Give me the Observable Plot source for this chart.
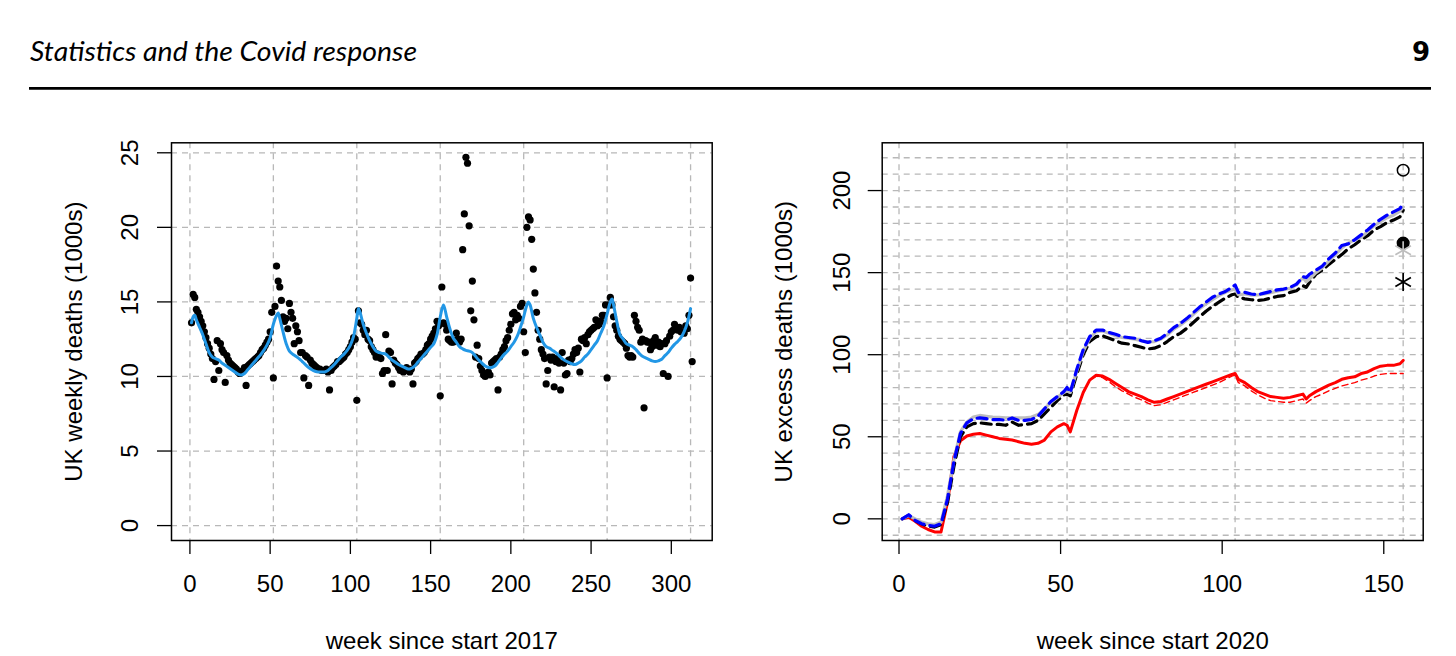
<!DOCTYPE html>
<html><head><meta charset="utf-8">
<script src="https://cdn.jsdelivr.net/npm/d3@7"></script>
<script src="https://cdn.jsdelivr.net/npm/@observablehq/plot@0.6"></script>
<style>
body{margin:0;background:#fff;width:1456px;height:656px;overflow:hidden;position:relative;font-family:"Liberation Sans",Arial,sans-serif;}
#hdr{position:absolute;left:0;top:0;}
#left{position:absolute;left:0;top:100px;}
#right{position:absolute;left:740px;top:100px;}
</style></head><body>
<svg id="hdr" width="1456" height="100">
  <text x="30" y="61" font-family="Lato, 'DejaVu Sans', sans-serif" font-style="italic" font-size="27" textLength="387" lengthAdjust="spacingAndGlyphs">Statistics and the Covid response</text>
  <text x="1430" y="61" text-anchor="end" font-family="'DejaVu Sans', sans-serif" font-weight="bold" font-size="26">9</text>
  <line x1="29" x2="1431" y1="88.3" y2="88.3" stroke="black" stroke-width="2.8"/>
</svg>
<div id="left"></div><div id="right"></div>
<script>
// ---------- Left panel data: UK weekly deaths (1000s), weeks 1..313 since start 2017 ----------
const weeklyDeaths = [
 13.6,15.5,15.3,14.5,14.3,14.0,13.7,13.4,13.0,12.6,
 12.2,11.9,11.5,11.2,9.8,11.0,12.4,10.4,12.2,11.8,
 11.6,9.6,11.4,11.1,10.9,10.8,10.7,10.6,10.5,10.3,
 10.2,10.3,10.4,10.6,9.4,10.7,10.8,10.9,11.0,11.1,
 11.2,11.3,11.4,11.6,11.8,11.9,12.1,12.3,12.5,13.0,
 14.3,9.9,14.7,17.4,16.4,16.0,15.1,14.0,13.7,13.9,
 13.2,14.9,14.3,13.9,12.2,13.4,13.0,12.4,11.6,11.6,
 9.9,11.4,11.3,9.4,11.1,10.9,10.8,10.7,10.6,10.5,
 10.5,10.4,10.4,10.4,10.5,10.3,9.1,10.4,10.6,10.7,
 10.8,11.0,11.0,11.1,11.2,11.3,11.5,11.6,11.8,12.0,
 12.3,12.6,12.5,8.4,14.4,13.6,13.5,13.1,12.8,13.1,
 12.5,12.4,12.0,11.8,11.6,11.3,11.5,11.3,11.2,10.2,
 10.4,12.8,10.4,11.7,11.6,9.5,11.1,10.9,10.8,10.6,
 10.4,10.4,10.3,10.4,10.6,10.4,10.3,10.5,9.5,10.9,
 11.0,11.2,11.3,11.5,11.5,11.6,11.8,12.1,12.2,12.5,
 12.7,12.9,13.2,13.7,13.4,8.7,16.0,13.6,13.5,13.1,
 12.5,12.4,12.3,12.3,12.4,12.9,12.5,12.3,12.5,18.5,
 20.9,24.7,24.3,20.1,14.4,16.4,13.8,11.3,12.1,11.2,
 10.7,10.4,10.1,10.0,10.2,10.3,10.1,10.9,11.0,11.1,
 11.2,9.1,11.3,11.5,11.8,12.0,12.4,12.6,13.1,13.5,
 14.2,14.3,13.8,14.1,13.9,14.7,14.9,13.0,11.6,20.0,
 20.7,20.5,19.2,17.2,15.6,14.3,13.1,12.5,11.8,11.5,
 11.2,9.5,10.4,11.3,11.1,11.3,9.3,11.0,11.2,10.9,
 9.1,11.6,10.9,10.1,10.2,11.1,11.0,11.2,11.5,11.8,
 11.6,11.9,10.3,12.5,12.4,12.6,12.2,12.8,13.0,13.1,
 13.2,13.3,13.8,13.4,13.5,13.7,14.1,14.1,14.8,9.9,
 14.8,15.3,14.8,14.0,13.4,13.1,12.7,12.5,12.4,12.3,
 12.2,11.9,11.4,11.3,11.4,11.3,14.1,13.7,13.3,13.1,
 12.3,12.5,7.9,12.4,12.3,12.3,11.8,12.0,12.4,12.6,
 12.1,12.3,12.0,12.2,10.2,12.2,12.4,10.0,12.7,13.0,
 13.1,13.5,13.3,13.1,13.3,13.0,13.0,12.9,13.4,13.2,
 14.1,16.6,11.0
];
const blueWeeks = [1,2,3,4,6,8,10,12,14,16,18,20,22,24,26,28,30,32,34,36,38,40,42,44,46,48,50,52,54,55,56,58,60,62,64,66,68,70,72,74,76,78,80,82,84,86,88,90,92,94,96,98,100,102,104,105,106,108,110,112,114,116,118,120,122,124,126,128,130,132,134,136,138,140,142,144,146,148,150,152,154,156,158,160,162,164,166,168,170,172,174,176,178,180,182,184,186,188,190,192,194,196,198,200,202,204,206,208,210,211,212,214,216,218,220,222,224,226,228,230,232,234,236,238,240,242,244,246,248,250,252,254,256,258,260,262,263,264,266,268,270,272,274,276,278,280,282,284,286,288,290,292,294,296,298,300,302,304,306,308,310,312];
const blueValues = [13.6,14.0,14.1,13.8,13.3,12.8,12.2,11.6,11.3,11.2,11.1,10.9,10.75,10.6,10.45,10.3,10.15,10.1,10.2,10.45,10.7,10.95,11.2,11.45,11.75,12.1,12.6,13.5,14.1,14.25,13.9,13.0,12.2,11.7,11.5,11.35,11.2,11.0,10.8,10.6,10.45,10.35,10.3,10.3,10.3,10.4,10.6,10.8,11.05,11.3,11.5,11.75,12.1,12.7,13.9,14.55,14.3,13.5,12.9,12.4,12.0,11.7,11.6,11.55,11.5,11.3,11.1,10.95,10.8,10.7,10.6,10.5,10.55,10.7,10.95,11.2,11.45,11.7,11.95,12.2,12.8,14.0,14.8,14.0,13.2,12.6,12.3,12.0,11.85,11.75,11.7,11.6,11.35,11.1,10.9,10.7,10.6,10.6,10.7,10.95,11.25,11.5,11.7,12.0,12.3,12.7,13.3,14.0,14.8,15.0,14.8,13.9,13.3,12.8,12.3,12.0,11.9,11.75,11.6,11.4,11.2,11.05,10.95,10.85,10.8,10.9,11.05,11.3,11.5,11.8,12.1,12.4,12.9,13.4,14.2,15.0,15.2,14.8,13.7,12.8,12.5,12.2,12.1,12.0,11.8,11.55,11.35,11.25,11.15,11.05,11.0,11.05,11.15,11.4,11.6,11.9,12.15,12.35,12.6,13.0,13.6,14.55];
const leftXTicks = [0,50,100,150,200,250,300];
const leftYTicks = [0,5,10,15,20,25];
const leftXGrid = [0,52,104,156,208,260,312];

// ---------- Right panel data: UK excess deaths (1000s), weeks since start 2020 ----------
const excessWeeks = [1,3,5,7,9,11,13,15,17,19,
 21,23,25,27,29,31,33,35,37,39,
 41,43,45,47,49,51,52,53,55,57,
 59,61,63,65,67,69,71,73,75,77,
 79,81,83,85,87,89,91,93,95,97,
 99,101,103,104,105,107,109,111,113,115,
 117,119,121,123,125,126,127,129,131,133,
 135,137,139,141,143,145,147,149,151,153,
 155,156];
const greySeries = [0,2,0,-2,-3,-3.5,-2,14,36,53,
 59,62,63,62.5,62,61.8,61.5,61.5,61.5,61.5,
 62,63.5,67,71,74,77,78,77,90,102,
 110,114,114.5,113,111.5,110.5,110,109.5,108.5,107.8,
 108,109.5,112,115.5,118,121,124.5,128,131,133.5,
 136,138,139.5,140,136.5,137,136.3,136.5,137,137.8,
 138.7,139.6,140.5,142.5,147,144.5,146,150,153,157,
 161,165,168,170,171.5,175,178.5,181,183.5,185,
 187.5,190];
const blueSeries = [0,2.5,-1,-3,-4,-4.5,-3,12,35,52,
 58.5,61,61.5,61,60.5,60.5,60,61.5,60,60,
 60.5,62.5,67,71.5,74.5,77.5,80,77,91,103,
 111,115,115,113.5,112.5,111,110.5,110,108.5,107.5,
 108.5,110,113,116.5,119,122,125.5,129,132,135,
 137,138.5,141,142.5,138,138,137,136.5,137.5,138.5,
 139.5,140,141,143,147.5,147,149,151.5,154,158.5,
 162,166.5,167.5,170,173,176,179.5,182.5,185,187,
 189,192];
const blackSeries = [0,2,-1,-3,-4.5,-5,-3.5,10,32,50,
 56,58,58.5,58,57.5,57.5,57,59,57,57.5,
 58,60,64,68,72,75.5,76,75,88,100,
 108,111,111.5,110,108.5,107,106.5,105.5,104.5,103.5,
 104,105.5,108,111,113,116,119.5,123,126.5,129.5,
 132,134.5,136.5,137,135,134,133.5,133,133.5,134.5,
 135.5,136,138,139,142,141,144,149,151.5,155,
 158,161,164.5,167,170,172.5,176,178,180.5,182,
 184,188];
const redSeries = [0,1,-1.5,-4.5,-6.5,-8,-8,10,38,47.5,
 50.5,51.5,52,51,50,49,48.5,48,47,46,
 45.5,46,48,53,56,58,57,53,66,77,
 84.5,87.5,87,85,82.5,80,77.5,76,74.5,72.5,
 71,71.5,73,74.5,76,77.5,79,80.5,82,83.5,
 85,86.5,88,88.5,85,83,80,77.5,76,74.5,
 74,73.5,74,75,76,73,75,77.5,79.5,81.5,
 83,85,86,86.5,88.5,89.5,91.5,93,93.5,93.5,
 94.5,96.5];
const redDashedSeries = [0,1,-1.5,-4.5,-6.5,-8,-8,10,38,47.5,
 50.5,51.5,52,51,50,49,48.5,48,47,46,
 45.5,46,48,53,56,58,57,53,66,77,
 84.5,87,86,83.5,80.5,78,76,74,72.5,70.5,
 69,69.5,71,72.5,74,75.5,77,78.5,80,81.5,
 83,85,87,87.5,83,81,78,75.5,73.5,72,
 71.5,71,71,72,73,70.5,72,74.5,76,78,
 79.5,81,82,83,84.5,85.5,87,88,88.5,88.5,
 88.5,88.5];
const symbolWeek = 156;
const openCircleValue = 212.4;
const filledCircleValue = 168;
const greyStarValue = 163.6;
const blackStarValue = 144.3;
const rightXTicks = [0,50,100,150];
const rightYTicks = [0,50,100,150,200];
const rightXGrid = [0,52,104,156];
const rightYGrid = d3.range(-10, 221, 10);

const FS = 24;
const GRID = {stroke:"#b8b8b8", strokeWidth:1.3, strokeDasharray:"6,5"};
const TXT = {fontSize:FS, textAnchor:"middle", lineAnchor:"middle"};

// ---------- Left plot ----------
const leftPts = weeklyDeaths.map((v,i)=>({week:i+1, v}));
const leftLine = blueWeeks.map((w,i)=>({week:w, v:blueValues[i]}));
const left = Plot.plot({
  width:740, height:556,
  marginLeft:171, marginRight:28.3, marginTop:42.3, marginBottom:116,
  style:{fontFamily:"'Liberation Sans', Arial, sans-serif", background:"white", color:"black"},
  x:{domain:[-11.48,325.48]},
  y:{domain:[-1.0,25.67]},
  marks:[
    Plot.ruleX(leftXGrid, GRID),
    Plot.ruleY(leftYTicks, GRID),
    Plot.dot(leftPts, {x:"week", y:"v", r:3.6, fill:"black", stroke:"none"}),
    Plot.line(leftLine, {x:"week", y:"v", stroke:"#2297E6", strokeWidth:3, curve:"catmull-rom"}),
    Plot.frame({stroke:"black", strokeWidth:1.5}),
    Plot.axisX(leftXTicks, {tickSize:14, fill:"none", label:null, strokeWidth:1.3}),
    Plot.axisY(leftYTicks, {tickSize:14, fill:"none", label:null, strokeWidth:1.3}),
    Plot.text(leftXTicks, {...TXT, x:d=>d, frameAnchor:"bottom", dy:44, text:d=>String(d)}),
    Plot.text(leftYTicks, {...TXT, y:d=>d, frameAnchor:"left", dx:-41, rotate:-90, text:d=>String(d)}),
    Plot.text(["week since start 2017"], {...TXT, frameAnchor:"bottom", dy:101}),
    Plot.text(["UK weekly deaths (1000s)"], {...TXT, frameAnchor:"left", dx:-97, rotate:-90})
  ]
});
document.getElementById("left").appendChild(left);

// ---------- Right plot ----------
const mk = arr => excessWeeks.map((w,i)=>({week:w, v:arr[i]}));
const right = Plot.plot({
  width:716, height:556,
  marginLeft:141.7, marginRight:33.3, marginTop:42.3, marginBottom:116,
  style:{fontFamily:"'Liberation Sans', Arial, sans-serif", background:"white", color:"black"},
  x:{domain:[-5.2,162.2]},
  y:{domain:[-13.2,229.1]},
  marks:[
    Plot.ruleX(rightXGrid, GRID),
    Plot.ruleY(rightYGrid, GRID),
    Plot.line(mk(redSeries), {x:"week", y:"v", stroke:"#FF0000", strokeWidth:3}),
    Plot.line(mk(redDashedSeries), {x:"week", y:"v", stroke:"#FF0000", strokeWidth:1.4, strokeDasharray:"6,4"}),
    Plot.line(mk(blackSeries), {x:"week", y:"v", stroke:"black", strokeWidth:3.2, strokeDasharray:"10,6"}),
    Plot.line(mk(greySeries), {x:"week", y:"v", stroke:"#BEBEBE", strokeWidth:3.2}),
    Plot.line(mk(blueSeries), {x:"week", y:"v", stroke:"#0000FF", strokeWidth:3.2, strokeDasharray:"10,6"}),
    Plot.dot([{week:symbolWeek, v:openCircleValue}], {x:"week", y:"v", r:5.8, stroke:"black", strokeWidth:1.5, fill:"none"}),
    Plot.dot([{week:symbolWeek, v:filledCircleValue}], {x:"week", y:"v", r:5.8, fill:"black", stroke:"black"}),
    Plot.dot([{week:symbolWeek, v:greyStarValue}], {x:"week", y:"v", r:8.5, symbol:"asterisk", stroke:"#BEBEBE", strokeWidth:1.7}),
    Plot.dot([{week:symbolWeek, v:blackStarValue}], {x:"week", y:"v", r:8.5, symbol:"asterisk", stroke:"black", strokeWidth:1.7}),
    Plot.frame({stroke:"black", strokeWidth:1.5}),
    Plot.axisX(rightXTicks, {tickSize:14, fill:"none", label:null, strokeWidth:1.3}),
    Plot.axisY(rightYTicks, {tickSize:14, fill:"none", label:null, strokeWidth:1.3}),
    Plot.text(rightXTicks, {...TXT, x:d=>d, frameAnchor:"bottom", dy:44, text:d=>String(d)}),
    Plot.text(rightYTicks, {...TXT, y:d=>d, frameAnchor:"left", dx:-40, rotate:-90, text:d=>String(d)}),
    Plot.text(["week since start 2020"], {...TXT, frameAnchor:"bottom", dy:101}),
    Plot.text(["UK excess deaths (1000s)"], {...TXT, frameAnchor:"left", dx:-98, rotate:-90})
  ]
});
document.getElementById("right").appendChild(right);
</script>
</body></html>
